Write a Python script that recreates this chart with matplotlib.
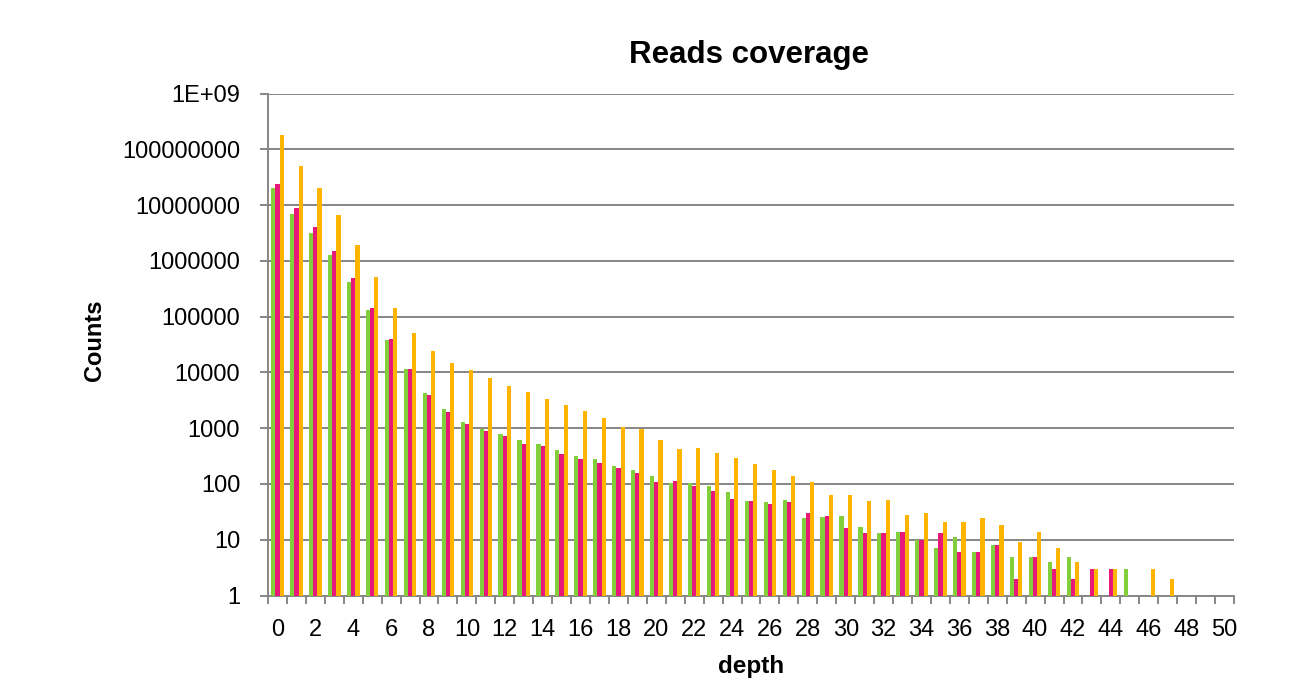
import numpy as np
import matplotlib
matplotlib.use("Agg")
import matplotlib.pyplot as plt
from matplotlib.ticker import FixedLocator, NullFormatter, NullLocator

# Coverage depth categories 0..50
depth = list(range(51))

# Counts per depth for the three samples
sample_green = [2.0e7, 6.8e6, 3.2e6, 1.25e6, 4.2e5, 1.3e5, 3.8e4, 1.17e4, 4200, 2200,
                1300, 980, 790, 610, 525, 400, 318, 285, 214, 176,
                139, 106, 102, 91, 73, 49, 47, 51, 25, 26,
                27, 17, 13, 14, 10, 7, 11, 6, 8, 5,
                5, 4, 5, 0, 0, 3, 0, 0, 0, 0, 0]
sample_pink = [2.4e7, 8.8e6, 4.1e6, 1.5e6, 4.9e5, 1.4e5, 4.0e4, 1.15e4, 4000, 1950,
               1180, 890, 710, 530, 475, 350, 285, 240, 190, 158,
               109, 111, 93, 74, 53, 49, 44, 47, 30, 27,
               16, 13, 13, 14, 10, 13, 6, 6, 8, 2,
               5, 3, 2, 3, 3, 0, 0, 0, 0, 0, 0]
sample_orange = [1.8e8, 5.1e7, 2.0e7, 6.5e6, 1.9e6, 5.1e5, 1.45e5, 5.1e4, 2.4e4, 1.5e4,
                 1.1e4, 7900, 5700, 4500, 3300, 2600, 2000, 1500, 1050, 960,
                 610, 420, 437, 356, 290, 226, 176, 137, 107, 64,
                 63, 49, 51, 28, 30, 21, 21, 25, 18, 9,
                 14, 7, 4, 3, 3, 0, 3, 2, 0, 0, 0]

y_tick_values = [1, 10, 100, 1000, 10000, 100000, 1000000, 10000000, 100000000, 1e9]
y_tick_labels = ["1", "10", "100", "1000", "10000", "100000", "1000000",
                 "10000000", "100000000", "1E+09"]
x_tick_values = list(range(0, 51, 2))
x_tick_labels = [str(v) for v in x_tick_values]

plt.rcParams["font.family"] = ["Liberation Sans", "DejaVu Sans"]

W, H = 1302, 682
fig = plt.figure(figsize=(W / 100, H / 100), dpi=100)
ax = fig.add_axes([268 / W, 1 - 595.5 / H, (1234 - 268) / W, (595.5 - 93.5) / H])

grid_col = "#868686"
colors = ["#80CF3B", "#E8187A", "#FFB400"]
bw = 0.222
x = np.arange(len(depth))
for k, (vals, col) in enumerate(zip([sample_green, sample_pink, sample_orange], colors)):
    ax.bar(x + (k - 1) * bw, vals, width=bw, color=col, linewidth=0, zorder=3)

ax.set_yscale("log")
ax.set_ylim(1, 1e9)
ax.set_xlim(-0.5, len(depth) - 0.5)

ax.yaxis.set_major_locator(FixedLocator(y_tick_values))
ax.set_yticklabels(y_tick_labels)
ax.yaxis.set_minor_locator(NullLocator())
ax.yaxis.grid(True, color=grid_col, linewidth=1.4, zorder=0)
ax.set_axisbelow(True)

ax.set_xticks(x_tick_values)
ax.set_xticklabels(x_tick_labels)
ax.xaxis.set_minor_locator(FixedLocator(np.arange(-0.5, len(depth), 1.0)))
ax.xaxis.set_minor_formatter(NullFormatter())

ax.tick_params(axis="x", which="major", length=0, pad=17, labelsize=17)
ax.tick_params(axis="x", which="minor", length=6, width=1.4, color=grid_col, direction="out")
ax.tick_params(axis="y", which="major", length=6, width=1.4, color=grid_col,
               direction="out", pad=14, labelsize=17)

for side in ("top", "right"):
    ax.spines[side].set_visible(False)
for side in ("left", "bottom"):
    ax.spines[side].set_color(grid_col)
    ax.spines[side].set_linewidth(1.4)

fig.text(749 / W, 1 - 55 / H, "Reads coverage", ha="center", va="center",
         fontsize=22.5, fontweight="bold")
fig.text(751 / W, 1 - 667 / H, "depth", ha="center", va="center",
         fontsize=17.5, fontweight="bold")
fig.text(95 / W, 1 - 340 / H, "Counts", ha="center", va="center", rotation=90,
         fontsize=17, fontweight="bold")

fig.savefig("out.png", dpi=100)
